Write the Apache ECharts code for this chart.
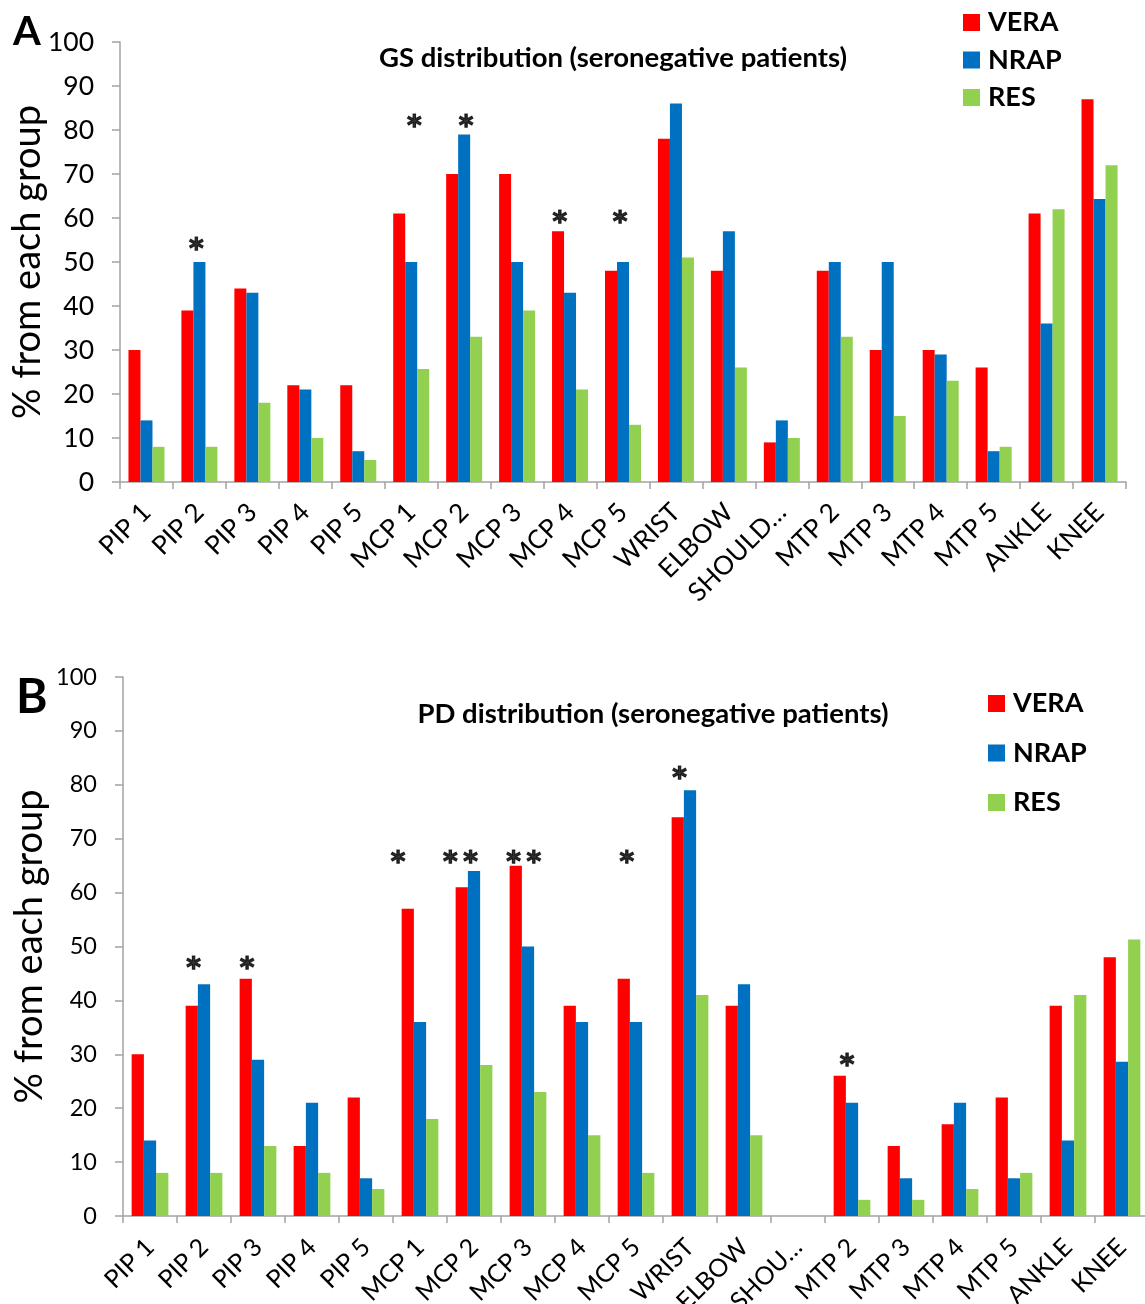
<!DOCTYPE html>
<html>
<head>
<meta charset="utf-8">
<script src="https://cdn.jsdelivr.net/npm/echarts@6/dist/echarts.min.js"></script>
<style>
  html, body { margin: 0; padding: 0; background: #fff; }
  #main { width: 1145px; height: 1304px; }
</style>
</head>
<body>
<div id="main"></div>
<script>
// Joint categories (x axis)
const gsCategories = ['PIP 1','PIP 2','PIP 3','PIP 4','PIP 5','MCP 1','MCP 2','MCP 3','MCP 4','MCP 5',
  'WRIST','ELBOW','SHOULD\u2026','MTP 2','MTP 3','MTP 4','MTP 5','ANKLE','KNEE'];
const pdCategories = ['PIP 1','PIP 2','PIP 3','PIP 4','PIP 5','MCP 1','MCP 2','MCP 3','MCP 4','MCP 5',
  'WRIST','ELBOW','SHOU\u2026','MTP 2','MTP 3','MTP 4','MTP 5','ANKLE','KNEE'];

const groupNames = ['VERA', 'NRAP', 'RES'];

// Panel A: GS distribution (% of each group)
const gsVERA = [30, 39, 44, 22, 22, 61, 70, 70, 57, 48, 78, 48, 9, 48, 30, 30, 26, 61, 87];
const gsNRAP = [14, 50, 43, 21, 7, 50, 79, 50, 43, 50, 86, 57, 14, 50, 50, 29, 7, 36, 64.3];
const gsRES  = [8, 8, 18, 10, 5, 25.7, 33, 39, 21, 13, 51, 26, 10, 33, 15, 23, 8, 62, 72];

// Panel B: PD distribution (% of each group)
const pdVERA = [30, 39, 44, 13, 22, 57, 61, 65, 39, 44, 74, 39, 0, 26, 13, 17, 22, 39, 48];
const pdNRAP = [14, 43, 29, 21, 7, 36, 64, 50, 36, 36, 79, 43, 0, 21, 7, 21, 7, 14, 28.6];
const pdRES  = [8, 8, 13, 8, 5, 18, 28, 23, 15, 8, 41, 15, 0, 3, 3, 5, 8, 41, 51.3];

// Significance marks: category index, bar slot (0 = VERA, 1 = NRAP, 2 = RES), height on the value axis
const gsStarCat   = [1, 5, 6, 8, 9];
const gsStarSlot  = [0.75, 1.25, 1.15, 0.15, 0.75];
const gsStarLevel = [54, 81.8, 81.8, 60, 60];
const gsStarText  = ['*', '*', '*', '*', '*'];

const pdStarCat   = [1, 2, 5, 6, 7, 9, 10, 13];
const pdStarSlot  = [0.15, 0.1, -0.8, -0.1, 0.65, 0.25, 0.15, 0.6];
const pdStarLevel = [46.8, 46.8, 66.4, 66.4, 66.4, 66.4, 82, 28.9];
const pdStarText  = ['*', '*', '*', '**', '**', '*', '*', '*'];

const yTicks = { min: 0, max: 100, interval: 10 };

const FONT = 'Lato, "Open Sans", sans-serif';
const STAR_FONT = '"DejaVu Sans", sans-serif';
const COLORS = ['#FF0000', '#0070C0', '#92D050'];
const AXIS_COLOR = '#a3a3a3';

const grids = [
  { left: 120, top: 42, width: 1006, height: 440, containLabel: false, outerBoundsMode: 'none' },
  { left: 123, top: 677, width: 1026, height: 539, containLabel: false, outerBoundsMode: 'none' }
];
const CAT_GAP = 0.32;

function xAxisFor(idx, cats, fontSize, margin) {
  return {
    type: 'category', gridIndex: idx, data: cats,
    axisLine: { lineStyle: { color: AXIS_COLOR, width: 1.5 } },
    axisTick: { show: true, length: 7, lineStyle: { color: AXIS_COLOR, width: 1.5 } },
    axisLabel: { interval: 0, rotate: 45, fontSize: fontSize, color: '#000', fontFamily: FONT, margin: margin,
      hideOverlap: false },
    splitLine: { show: false }
  };
}
function yAxisFor(idx, labelSize, nameGap) {
  return {
    type: 'value', gridIndex: idx, min: yTicks.min, max: yTicks.max, interval: yTicks.interval,
    name: '% from each group', nameLocation: 'middle', nameGap: nameGap, nameMoveOverlap: false,
    nameTextStyle: { fontSize: 38, color: '#000', fontFamily: FONT },
    axisLine: { show: true, lineStyle: { color: AXIS_COLOR, width: 1.5 } },
    axisTick: { show: true, length: 8, lineStyle: { color: AXIS_COLOR, width: 1.5 } },
    axisLabel: { fontSize: labelSize, color: '#000', fontFamily: FONT, margin: 26 },
    splitLine: { show: false }
  };
}
function barSeries(idx, name, data, color) {
  return {
    type: 'bar', name: name, xAxisIndex: idx, yAxisIndex: idx, data: data,
    barGap: '0%', barCategoryGap: (CAT_GAP * 100) + '%',
    itemStyle: { color: color }, emphasis: { disabled: true }
  };
}
function starSeries(idx, cats, slots, levels, texts) {
  const g = grids[idx];
  const catW = g.width / gsCategories.length;
  const barW = catW * (1 - CAT_GAP) / 3;
  return {
    type: 'scatter', xAxisIndex: idx, yAxisIndex: idx, symbolSize: 1,
    itemStyle: { color: 'rgba(0,0,0,0)' }, silent: true, z: 5,
    data: cats.map((c, i) => ({
      value: [c, levels[i]], text: texts[i].split('').join('\u2009'),
      label: { offset: [(slots[i] - 1) * barW, 6] }
    })),
    label: {
      show: true, position: 'inside', formatter: p => p.data.text,
      fontSize: 28, fontWeight: 'bold', color: '#000', fontFamily: STAR_FONT,
      textBorderColor: '#000', textBorderWidth: 1.2
    }
  };
}

const legendBase = {
  orient: 'vertical', icon: 'rect', itemWidth: 17, itemHeight: 17, data: groupNames,
  selectedMode: false, padding: 0,
  textStyle: { fontSize: 27, fontWeight: 'bold', color: '#000', fontFamily: FONT, lineHeight: 27, padding: [0, 0, 0, 3] }
};

const chart = echarts.init(document.getElementById('main'));
chart.setOption({
  animation: false,
  backgroundColor: '#fff',
  grid: grids,
  xAxis: [xAxisFor(0, gsCategories, 26, 26), xAxisFor(1, pdCategories, 25, 27)],
  yAxis: [yAxisFor(0, 26.5, 73), yAxisFor(1, 23.5, 74)],
  legend: [
    Object.assign({}, legendBase, { left: 963, top: 9, itemGap: 10.5 }),
    Object.assign({}, legendBase, { left: 988, top: 690, itemGap: 22.5 })
  ],
  graphic: [
    { type: 'text', left: 13, top: 12, style: { text: 'A', fontSize: 40, fontWeight: 'bold', fill: '#000', fontFamily: FONT } },
    { type: 'text', left: 16, top: 674, style: { text: 'B', fontSize: 48, fontWeight: 'bold', fill: '#000', fontFamily: FONT } },
    { type: 'text', x: 613, y: 58, style: { text: 'GS distribution (seronegative patients)', fontSize: 27.5, fontWeight: 'bold',
      fill: '#000', fontFamily: FONT, textAlign: 'center', textVerticalAlign: 'middle' } },
    { type: 'text', x: 653, y: 714, style: { text: 'PD distribution (seronegative patients)', fontSize: 27.5, fontWeight: 'bold',
      fill: '#000', fontFamily: FONT, textAlign: 'center', textVerticalAlign: 'middle' } }
  ],
  series: [
    barSeries(0, 'VERA', gsVERA, COLORS[0]),
    barSeries(0, 'NRAP', gsNRAP, COLORS[1]),
    barSeries(0, 'RES', gsRES, COLORS[2]),
    starSeries(0, gsStarCat, gsStarSlot, gsStarLevel, gsStarText),
    barSeries(1, 'VERA', pdVERA, COLORS[0]),
    barSeries(1, 'NRAP', pdNRAP, COLORS[1]),
    barSeries(1, 'RES', pdRES, COLORS[2]),
    starSeries(1, pdStarCat, pdStarSlot, pdStarLevel, pdStarText)
  ]
});
</script>
</body>
</html>
